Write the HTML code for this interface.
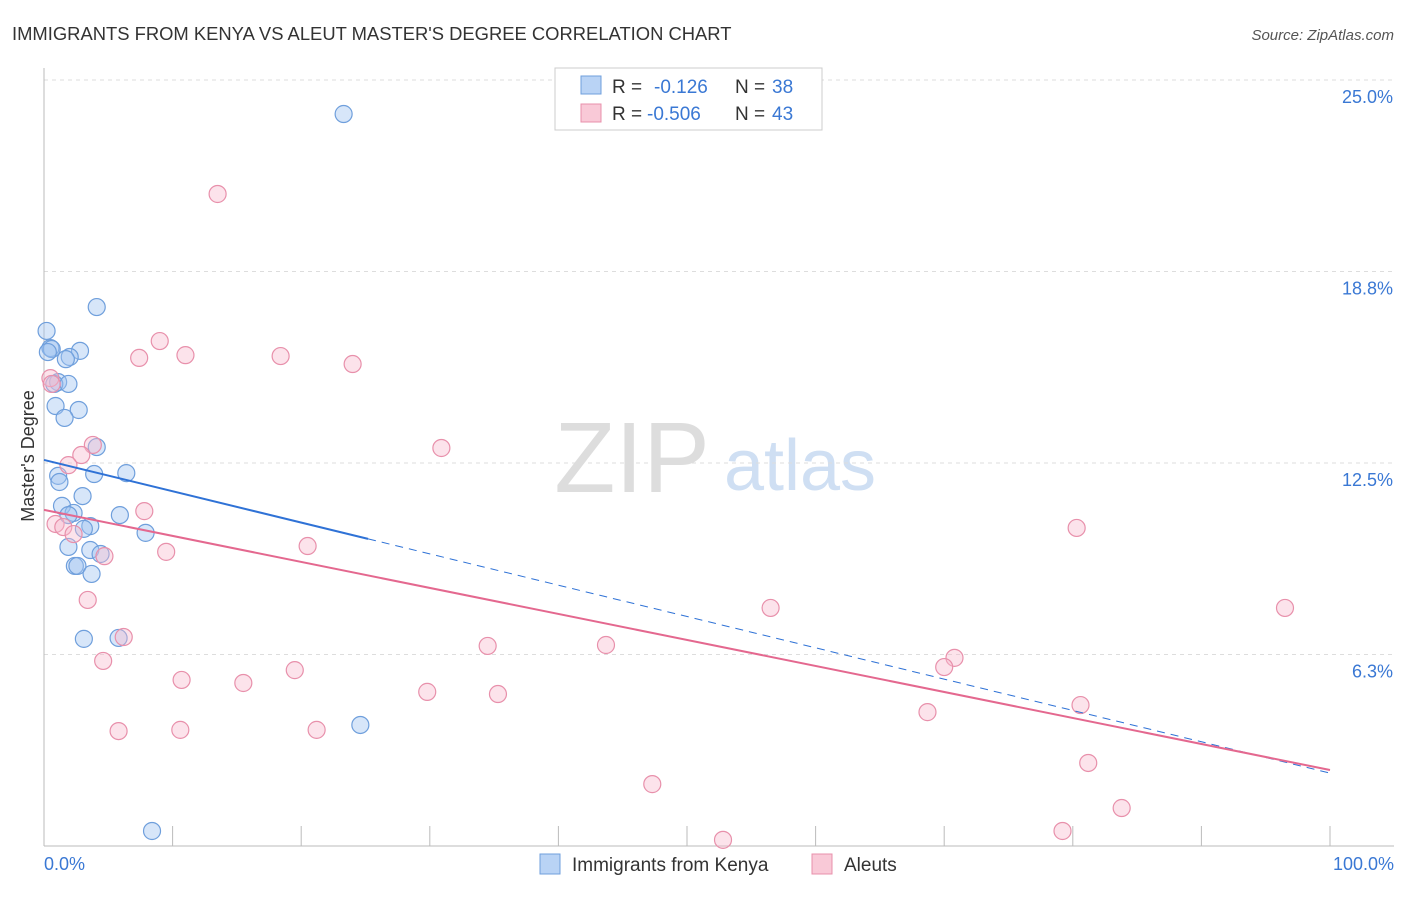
<!DOCTYPE html>
<html><head><meta charset="utf-8"><style>
body{margin:0;background:#fff;font-family:"Liberation Sans",sans-serif}
svg text{font-family:"Liberation Sans",sans-serif}
</style></head><body>
<svg id="chart" width="1406" height="892" viewBox="0 0 1406 892">
<text x="12" y="40" font-size="18.4" fill="#333">IMMIGRANTS FROM KENYA VS ALEUT MASTER'S DEGREE CORRELATION CHART</text>
<text x="1394" y="40" font-size="15" fill="#555" font-style="italic" text-anchor="end">Source: ZipAtlas.com</text>
<g><text x="632" y="492" font-size="100" fill="#ddd" font-family="Liberation Serif" text-anchor="middle">ZIP</text><text x="800" y="490" font-size="72" fill="#cfdff3" text-anchor="middle">atlas</text></g>
<g id="grid"></g>
<line x1="44" y1="68" x2="44" y2="846" stroke="#bbb"/>
<line x1="44" y1="846" x2="1394" y2="846" stroke="#bbb"/>
<text transform="translate(34,456) rotate(-90)" font-size="18" fill="#333" text-anchor="middle">Master's Degree</text>
<text x="44" y="870" font-size="18" fill="#3a78d4">0.0%</text>
<text x="1394" y="870" font-size="18" fill="#3a78d4" text-anchor="end">100.0%</text>
<g id="marks"></g>
<g>
<rect x="555" y="68" width="267" height="62" fill="#fff" stroke="#ccc"/>
<rect x="581" y="76" width="20" height="18" fill="#b9d3f5" stroke="#6f9fdc"/>
<text x="612" y="93" font-size="19" fill="#333">R = </text><text x="654" y="93" font-size="19" fill="#3a78d4">-0.126</text>
<text x="735" y="93" font-size="19" fill="#333">N = </text><text x="772" y="93" font-size="19" fill="#3a78d4">38</text>
<rect x="581" y="104" width="20" height="18" fill="#f9c9d7" stroke="#e890ab"/>
<text x="612" y="120" font-size="19" fill="#333">R = </text><text x="647" y="120" font-size="19" fill="#3a78d4">-0.506</text>
<text x="735" y="120" font-size="19" fill="#333">N = </text><text x="772" y="120" font-size="19" fill="#3a78d4">43</text>
</g>
<g><rect x="540" y="854" width="20" height="20" fill="#b9d3f5" stroke="#6f9fdc"/><text x="572" y="871" font-size="19" fill="#333">Immigrants from Kenya</text></g>
<g><rect x="812" y="854" width="20" height="20" fill="#f9c9d7" stroke="#e890ab"/><text x="844" y="871" font-size="19" fill="#333">Aleuts</text></g>
</svg>
<script>
const yTicks=[25.0,18.8,12.5,6.3];
const yTickVals=[25,18.75,12.5,6.25];
const kenyaX=[23.3,4.1,0.2,0.5,0.6,2.8,2.0,1.7,1.1,0.8,0.9,2.7,1.6,4.1,3.9,6.4,1.1,1.2,3.0,1.4,2.3,1.9,5.9,3.6,3.1,7.9,1.9,3.6,4.4,2.4,2.6,3.7,3.1,5.8,24.6,8.4,0.3,1.9];
const kenyaY=[23.89,17.59,16.81,16.25,16.22,16.16,15.96,15.89,15.14,15.08,14.36,14.23,13.97,13.02,12.14,12.17,12.08,11.88,11.42,11.10,10.87,10.80,10.80,10.44,10.35,10.22,9.76,9.66,9.53,9.14,9.14,8.88,6.76,6.79,3.95,0.49,16.12,15.08];
const aleutX=[13.5,9.0,7.4,11.0,18.4,24.0,0.5,0.6,30.9,3.8,2.9,1.9,7.8,0.9,1.5,2.3,20.5,9.5,4.7,80.3,3.4,56.5,96.5,6.2,34.5,43.7,4.6,70.8,70.0,10.7,15.5,19.5,29.8,35.3,80.6,68.7,5.8,10.6,21.2,81.2,47.3,83.8,79.2,52.8];
const aleutY=[21.28,16.48,15.93,16.02,15.99,15.73,15.27,15.08,12.99,13.09,12.76,12.43,10.93,10.51,10.41,10.18,9.79,9.60,9.46,10.38,8.03,7.77,7.77,6.82,6.53,6.56,6.04,6.14,5.84,5.42,5.32,5.74,5.03,4.96,4.60,4.37,3.75,3.79,3.79,2.71,2.02,1.24,0.49,0.20];
const kenyaTrend=[12.6,2.38];
const aleutTrend=[10.97,2.48];
const kenyaSolidEnd=25.2;
const NS="http://www.w3.org/2000/svg";
const X=v=>44+v*12.86, Y=v=>846-v*30.64;
const grid=document.getElementById('grid'), marks=document.getElementById('marks');
function mk(tag,attrs,parent){const e=document.createElementNS(NS,tag);for(const k in attrs)e.setAttribute(k,attrs[k]);parent.appendChild(e);return e;}
yTickVals.forEach((v,i)=>{
 const l=mk('line',{x1:44,x2:1394,y1:Y(v),y2:Y(v),stroke:'#ddd','stroke-dasharray':'4 4'},grid);
 
 
 const t=mk('text',{x:1393,y:Y(v)+23,'font-size':18,fill:'#3a78d4','text-anchor':'end'},grid);
 t.textContent=yTicks[i].toFixed(1)+'%';
 
 
});
for(let i=0;i<=10;i++){
 const l=mk('line',{x1:X(i*10),x2:X(i*10),y1:826,y2:846,stroke:'#bbb'},grid);
 
 
}
kenyaX.forEach((x,i)=>{
 const c=mk('circle',{cx:X(x),cy:Y(kenyaY[i]),r:8.5,fill:'rgba(160,196,240,0.42)',stroke:'#6f9fdc','stroke-width':1.2},marks);
 
 
});
aleutX.forEach((x,i)=>{
 const c=mk('circle',{cx:X(x),cy:Y(aleutY[i]),r:8.5,fill:'rgba(247,185,205,0.4)',stroke:'#e890ab','stroke-width':1.2},marks);
 
 
});
const ky=x=>kenyaTrend[0]+(kenyaTrend[1]-kenyaTrend[0])*x/100;
const l1=mk('line',{x1:X(0),y1:Y(ky(0)),x2:X(kenyaSolidEnd),y2:Y(ky(kenyaSolidEnd)),stroke:'#2f72d6','stroke-width':2},marks);


const l2=mk('line',{x1:X(kenyaSolidEnd),y1:Y(ky(kenyaSolidEnd)),x2:X(100),y2:Y(ky(100)),stroke:'#2f72d6','stroke-width':1,'stroke-dasharray':'8 6'},marks);


const l3=mk('line',{x1:X(0),y1:Y(aleutTrend[0]),x2:X(100),y2:Y(aleutTrend[1]),stroke:'#e4688f','stroke-width':2},marks);


</script>
</body></html>
